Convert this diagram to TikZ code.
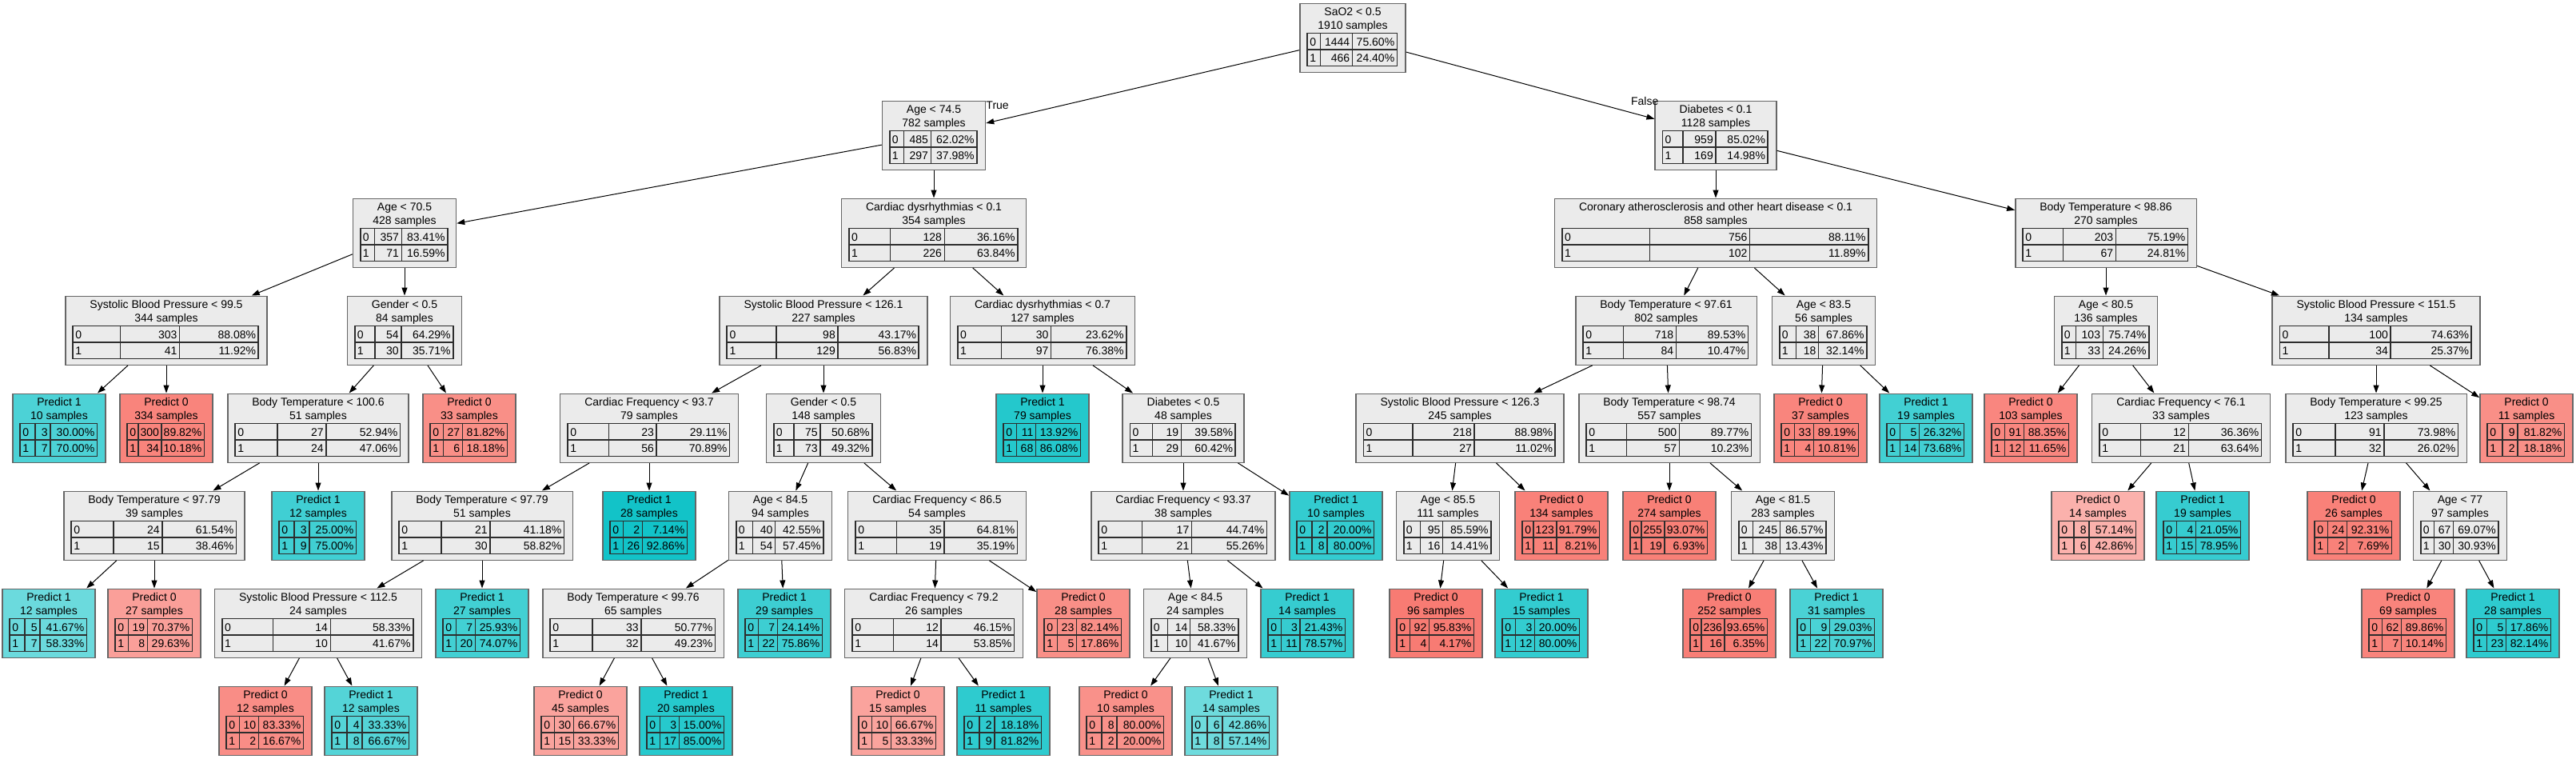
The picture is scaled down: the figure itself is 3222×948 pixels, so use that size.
\documentclass[tikz,border=0pt]{standalone}
\usepackage{fontspec}
\setmainfont{Liberation Sans}
\usepackage{tikz}
\usetikzlibrary{arrows.meta}
\definecolor{salmonk}{RGB}{248, 118, 109}
\definecolor{tealk}{RGB}{0, 191, 196}
\definecolor{splitgray}{RGB}{235, 235, 235}
\definecolor{boxgray}{RGB}{102, 102, 102}
\definecolor{tabgray}{RGB}{45, 45, 45}
\tikzset{
  splitbox/.style={draw=boxgray, line width=1.4pt, fill=splitgray},
  leafA/.style={draw=boxgray, line width=1.4pt, fill=salmonk!#1!white},
  leafB/.style={draw=boxgray, line width=1.4pt, fill=tealk!#1!white},
  tabline/.style={draw=tabgray, line width=1.4pt},
  cell/.style={inner sep=0pt},
  treeedge/.style={->, line width=1pt}
}
\newdimen\dtW \newdimen\dtA \newdimen\dtB \newdimen\dtC \newdimen\dtX
% name, x, row, style, title, n0, p0, n1, p1
\newcommand{\dtnode}[9]{%
  \pgfinterruptpicture
    \fontsize{14}{17}\selectfont
    \settowidth{\dtX}{#5}\global\dtW=\dtX
    \settowidth{\dtX}{0}\global\dtA=\dtX
    \settowidth{\dtX}{#6}\global\dtB=\dtX
    \settowidth{\dtX}{#8}\ifdim\dtX>\dtB \global\dtB=\dtX \fi
    \settowidth{\dtX}{#7\%}\global\dtC=\dtX
    \settowidth{\dtX}{#9\%}\ifdim\dtX>\dtC \global\dtC=\dtX \fi
  \endpgfinterruptpicture
  \advance\dtW by 61pt
  \advance\dtA by 10pt \advance\dtB by 10pt \advance\dtC by 10pt
  \dtX=\dtW \advance\dtX by -20pt
  \advance\dtX by -\dtA \advance\dtX by -\dtB \advance\dtX by -\dtC
  \divide\dtX by 3
  \advance\dtA by \dtX \advance\dtB by \dtX \advance\dtC by \dtX
  \node[#4, minimum width=\dtW, minimum height=86pt, anchor=north] (#1) at (#2, 3.5+122*#3) {};
  \node[cell, anchor=base] (#1-t) at ([yshift=-16pt]#1.north) {#5};
  \node[cell, anchor=base] (#1-s) at ([yshift=-33pt]#1.north) {\the\numexpr#6+#8\relax\ samples};
  \coordinate (#1-o) at ([xshift=10pt, yshift=-38pt]#1.north west);
  \draw[tabline, line width=1.8pt] (#1-o) rectangle ++(\dtW-20pt, -41pt);
  \draw[tabline] ([yshift=-20.5pt]#1-o) -- ++(\dtW-20pt, 0pt);
  \draw[tabline] ([xshift=\dtA]#1-o) -- ++(0pt, -41pt);
  \draw[tabline] ([xshift=\dtA+\dtB]#1-o) -- ++(0pt, -41pt);
  \node[cell, anchor=base west] (#1-a0) at ([xshift=3pt, yshift=-15.5pt]#1-o) {0};
  \node[cell, anchor=base east] (#1-b0) at ([xshift=\dtA+\dtB-3pt, yshift=-15.5pt]#1-o) {#6};
  \node[cell, anchor=base east] (#1-c0) at ([xshift=\dtW-23pt, yshift=-15.5pt]#1-o) {#7\%};
  \node[cell, anchor=base west] (#1-a1) at ([xshift=3pt, yshift=-36pt]#1-o) {1};
  \node[cell, anchor=base east] (#1-b1) at ([xshift=\dtA+\dtB-3pt, yshift=-36pt]#1-o) {#8};
  \node[cell, anchor=base east] (#1-c1) at ([xshift=\dtW-23pt, yshift=-36pt]#1-o) {#9\%};
}

\begin{document}
\begin{tikzpicture}[x=1pt, y=-1pt, >={Triangle[length=10pt, width=7pt]}, font=\fontsize{14}{17}\selectfont]
  \useasboundingbox (0,0) rectangle (3222,948);
  \fill[white] (0,0) rectangle (3222,948);

  \dtnode{root}{1692}{0}{splitbox}{SaO2 < 0.5}{1444}{75.60}{466}{24.40}

  \dtnode{a745}{1168}{1}{splitbox}{Age < 74.5}{485}{62.02}{297}{37.98}
  \dtnode{d01}{2146}{1}{splitbox}{Diabetes < 0.1}{959}{85.02}{169}{14.98}

  \dtnode{a705}{506}{2}{splitbox}{Age < 70.5}{357}{83.41}{71}{16.59}
  \dtnode{cd01}{1168}{2}{splitbox}{Cardiac dysrhythmias < 0.1}{128}{36.16}{226}{63.84}
  \dtnode{cor}{2146}{2}{splitbox}{Coronary atherosclerosis and other heart disease < 0.1}{756}{88.11}{102}{11.89}
  \dtnode{bt9886}{2634}{2}{splitbox}{Body Temperature < 98.86}{203}{75.19}{67}{24.81}

  \dtnode{sbp995}{208}{3}{splitbox}{Systolic Blood Pressure < 99.5}{303}{88.08}{41}{11.92}
  \dtnode{g05a}{506}{3}{splitbox}{Gender < 0.5}{54}{64.29}{30}{35.71}
  \dtnode{sbp1261}{1030}{3}{splitbox}{Systolic Blood Pressure < 126.1}{98}{43.17}{129}{56.83}
  \dtnode{cd07}{1304}{3}{splitbox}{Cardiac dysrhythmias < 0.7}{30}{23.62}{97}{76.38}
  \dtnode{bt9761}{2084}{3}{splitbox}{Body Temperature < 97.61}{718}{89.53}{84}{10.47}
  \dtnode{a835}{2281}{3}{splitbox}{Age < 83.5}{38}{67.86}{18}{32.14}
  \dtnode{a805}{2634}{3}{splitbox}{Age < 80.5}{103}{75.74}{33}{24.26}
  \dtnode{sbp1515}{2972}{3}{splitbox}{Systolic Blood Pressure < 151.5}{100}{74.63}{34}{25.37}

  \dtnode{p1n10}{74}{4}{leafB=70}{Predict 1}{3}{30.00}{7}{70.00}
  \dtnode{p0n334}{208}{4}{leafA=90}{Predict 0}{300}{89.82}{34}{10.18}
  \dtnode{bt1006}{398}{4}{splitbox}{Body Temperature < 100.6}{27}{52.94}{24}{47.06}
  \dtnode{p0n33}{587}{4}{leafA=82}{Predict 0}{27}{81.82}{6}{18.18}
  \dtnode{cf937}{812}{4}{splitbox}{Cardiac Frequency < 93.7}{23}{29.11}{56}{70.89}
  \dtnode{g05b}{1030}{4}{splitbox}{Gender < 0.5}{75}{50.68}{73}{49.32}
  \dtnode{p1n79}{1304}{4}{leafB=86}{Predict 1}{11}{13.92}{68}{86.08}
  \dtnode{d05}{1480}{4}{splitbox}{Diabetes < 0.5}{19}{39.58}{29}{60.42}
  \dtnode{sbp1263}{1826}{4}{splitbox}{Systolic Blood Pressure < 126.3}{218}{88.98}{27}{11.02}
  \dtnode{bt9874}{2088}{4}{splitbox}{Body Temperature < 98.74}{500}{89.77}{57}{10.23}
  \dtnode{p0n37}{2277}{4}{leafA=89}{Predict 0}{33}{89.19}{4}{10.81}
  \dtnode{p1n19a}{2409}{4}{leafB=74}{Predict 1}{5}{26.32}{14}{73.68}
  \dtnode{p0n103}{2540}{4}{leafA=88}{Predict 0}{91}{88.35}{12}{11.65}
  \dtnode{cf761}{2728}{4}{splitbox}{Cardiac Frequency < 76.1}{12}{36.36}{21}{63.64}
  \dtnode{bt9925}{2972}{4}{splitbox}{Body Temperature < 99.25}{91}{73.98}{32}{26.02}
  \dtnode{p0n11}{3160}{4}{leafA=82}{Predict 0}{9}{81.82}{2}{18.18}

  \dtnode{bt9779a}{193}{5}{splitbox}{Body Temperature < 97.79}{24}{61.54}{15}{38.46}
  \dtnode{p1n12a}{398}{5}{leafB=75}{Predict 1}{3}{25.00}{9}{75.00}
  \dtnode{bt9779b}{603}{5}{splitbox}{Body Temperature < 97.79}{21}{41.18}{30}{58.82}
  \dtnode{p1n28a}{812}{5}{leafB=93}{Predict 1}{2}{7.14}{26}{92.86}
  \dtnode{a845a}{976}{5}{splitbox}{Age < 84.5}{40}{42.55}{54}{57.45}
  \dtnode{cf865}{1172}{5}{splitbox}{Cardiac Frequency < 86.5}{35}{64.81}{19}{35.19}
  \dtnode{cf9337}{1480}{5}{splitbox}{Cardiac Frequency < 93.37}{17}{44.74}{21}{55.26}
  \dtnode{p1n10b}{1671}{5}{leafB=80}{Predict 1}{2}{20.00}{8}{80.00}
  \dtnode{a855}{1811}{5}{splitbox}{Age < 85.5}{95}{85.59}{16}{14.41}
  \dtnode{p0n134}{1953}{5}{leafA=92}{Predict 0}{123}{91.79}{11}{8.21}
  \dtnode{p0n274}{2088}{5}{leafA=93}{Predict 0}{255}{93.07}{19}{6.93}
  \dtnode{a815}{2230}{5}{splitbox}{Age < 81.5}{245}{86.57}{38}{13.43}
  \dtnode{p0n14}{2624}{5}{leafA=57}{Predict 0}{8}{57.14}{6}{42.86}
  \dtnode{p1n19b}{2755}{5}{leafB=79}{Predict 1}{4}{21.05}{15}{78.95}
  \dtnode{p0n26}{2944}{5}{leafA=92}{Predict 0}{24}{92.31}{2}{7.69}
  \dtnode{a77}{3077}{5}{splitbox}{Age < 77}{67}{69.07}{30}{30.93}

  \dtnode{p1n12b}{61}{6}{leafB=58}{Predict 1}{5}{41.67}{7}{58.33}
  \dtnode{p0n27}{193}{6}{leafA=70}{Predict 0}{19}{70.37}{8}{29.63}
  \dtnode{sbp1125}{398}{6}{splitbox}{Systolic Blood Pressure < 112.5}{14}{58.33}{10}{41.67}
  \dtnode{p1n27}{603}{6}{leafB=74}{Predict 1}{7}{25.93}{20}{74.07}
  \dtnode{bt9976}{792}{6}{splitbox}{Body Temperature < 99.76}{33}{50.77}{32}{49.23}
  \dtnode{p1n29}{981}{6}{leafB=76}{Predict 1}{7}{24.14}{22}{75.86}
  \dtnode{cf792}{1168}{6}{splitbox}{Cardiac Frequency < 79.2}{12}{46.15}{14}{53.85}
  \dtnode{p0n28}{1355}{6}{leafA=82}{Predict 0}{23}{82.14}{5}{17.86}
  \dtnode{a845b}{1495}{6}{splitbox}{Age < 84.5}{14}{58.33}{10}{41.67}
  \dtnode{p1n14a}{1635}{6}{leafB=79}{Predict 1}{3}{21.43}{11}{78.57}
  \dtnode{p0n96}{1796}{6}{leafA=96}{Predict 0}{92}{95.83}{4}{4.17}
  \dtnode{p1n15}{1928}{6}{leafB=80}{Predict 1}{3}{20.00}{12}{80.00}
  \dtnode{p0n252}{2163}{6}{leafA=94}{Predict 0}{236}{93.65}{16}{6.35}
  \dtnode{p1n31}{2297}{6}{leafB=71}{Predict 1}{9}{29.03}{22}{70.97}
  \dtnode{p0n69}{3012}{6}{leafA=90}{Predict 0}{62}{89.86}{7}{10.14}
  \dtnode{p1n28b}{3143}{6}{leafB=82}{Predict 1}{5}{17.86}{23}{82.14}

  \dtnode{p0n12}{332}{7}{leafA=83}{Predict 0}{10}{83.33}{2}{16.67}
  \dtnode{p1n12c}{464}{7}{leafB=67}{Predict 1}{4}{33.33}{8}{66.67}
  \dtnode{p0n45}{726}{7}{leafA=67}{Predict 0}{30}{66.67}{15}{33.33}
  \dtnode{p1n20}{858}{7}{leafB=85}{Predict 1}{3}{15.00}{17}{85.00}
  \dtnode{p0n15}{1123}{7}{leafA=67}{Predict 0}{10}{66.67}{5}{33.33}
  \dtnode{p1n11}{1255}{7}{leafB=82}{Predict 1}{2}{18.18}{9}{81.82}
  \dtnode{p0n10}{1408}{7}{leafA=80}{Predict 0}{8}{80.00}{2}{20.00}
  \dtnode{p1n14b}{1540}{7}{leafB=57}{Predict 1}{6}{42.86}{8}{57.14}

  \draw[treeedge] (root) -- (a745);     \draw[treeedge] (root) -- (d01);
  \draw[treeedge] (a745) -- (a705);     \draw[treeedge] (a745) -- (cd01);
  \draw[treeedge] (d01) -- (cor);       \draw[treeedge] (d01) -- (bt9886);
  \draw[treeedge] (a705) -- (sbp995);   \draw[treeedge] (a705) -- (g05a);
  \draw[treeedge] (cd01) -- (sbp1261);  \draw[treeedge] (cd01) -- (cd07);
  \draw[treeedge] (cor) -- (bt9761);    \draw[treeedge] (cor) -- (a835);
  \draw[treeedge] (bt9886) -- (a805);   \draw[treeedge] (bt9886) -- (sbp1515);
  \draw[treeedge] (sbp995) -- (p1n10);  \draw[treeedge] (sbp995) -- (p0n334);
  \draw[treeedge] (g05a) -- (bt1006);   \draw[treeedge] (g05a) -- (p0n33);
  \draw[treeedge] (sbp1261) -- (cf937); \draw[treeedge] (sbp1261) -- (g05b);
  \draw[treeedge] (cd07) -- (p1n79);    \draw[treeedge] (cd07) -- (d05);
  \draw[treeedge] (bt9761) -- (sbp1263); \draw[treeedge] (bt9761) -- (bt9874);
  \draw[treeedge] (a835) -- (p0n37);    \draw[treeedge] (a835) -- (p1n19a);
  \draw[treeedge] (a805) -- (p0n103);   \draw[treeedge] (a805) -- (cf761);
  \draw[treeedge] (sbp1515) -- (bt9925); \draw[treeedge] (sbp1515) -- (p0n11);
  \draw[treeedge] (bt1006) -- (bt9779a); \draw[treeedge] (bt1006) -- (p1n12a);
  \draw[treeedge] (cf937) -- (bt9779b); \draw[treeedge] (cf937) -- (p1n28a);
  \draw[treeedge] (g05b) -- (a845a);    \draw[treeedge] (g05b) -- (cf865);
  \draw[treeedge] (d05) -- (cf9337);    \draw[treeedge] (d05) -- (p1n10b);
  \draw[treeedge] (sbp1263) -- (a855);  \draw[treeedge] (sbp1263) -- (p0n134);
  \draw[treeedge] (bt9874) -- (p0n274); \draw[treeedge] (bt9874) -- (a815);
  \draw[treeedge] (cf761) -- (p0n14);   \draw[treeedge] (cf761) -- (p1n19b);
  \draw[treeedge] (bt9925) -- (p0n26);  \draw[treeedge] (bt9925) -- (a77);
  \draw[treeedge] (bt9779a) -- (p1n12b); \draw[treeedge] (bt9779a) -- (p0n27);
  \draw[treeedge] (bt9779b) -- (sbp1125); \draw[treeedge] (bt9779b) -- (p1n27);
  \draw[treeedge] (a845a) -- (bt9976);  \draw[treeedge] (a845a) -- (p1n29);
  \draw[treeedge] (cf865) -- (cf792);   \draw[treeedge] (cf865) -- (p0n28);
  \draw[treeedge] (cf9337) -- (a845b);  \draw[treeedge] (cf9337) -- (p1n14a);
  \draw[treeedge] (a855) -- (p0n96);    \draw[treeedge] (a855) -- (p1n15);
  \draw[treeedge] (a815) -- (p0n252);   \draw[treeedge] (a815) -- (p1n31);
  \draw[treeedge] (a77) -- (p0n69);     \draw[treeedge] (a77) -- (p1n28b);
  \draw[treeedge] (sbp1125) -- (p0n12); \draw[treeedge] (sbp1125) -- (p1n12c);
  \draw[treeedge] (bt9976) -- (p0n45);  \draw[treeedge] (bt9976) -- (p1n20);
  \draw[treeedge] (cf792) -- (p0n15);   \draw[treeedge] (cf792) -- (p1n11);
  \draw[treeedge] (a845b) -- (p0n10);   \draw[treeedge] (a845b) -- (p1n14b);

  \node[cell, anchor=base west] (lblT) at ([yshift=-11pt]a745.north east) {True};
  \node[cell, anchor=base east] (lblF) at ([xshift=5pt, yshift=-6pt]d01.north west) {False};
\end{tikzpicture}
\end{document}
